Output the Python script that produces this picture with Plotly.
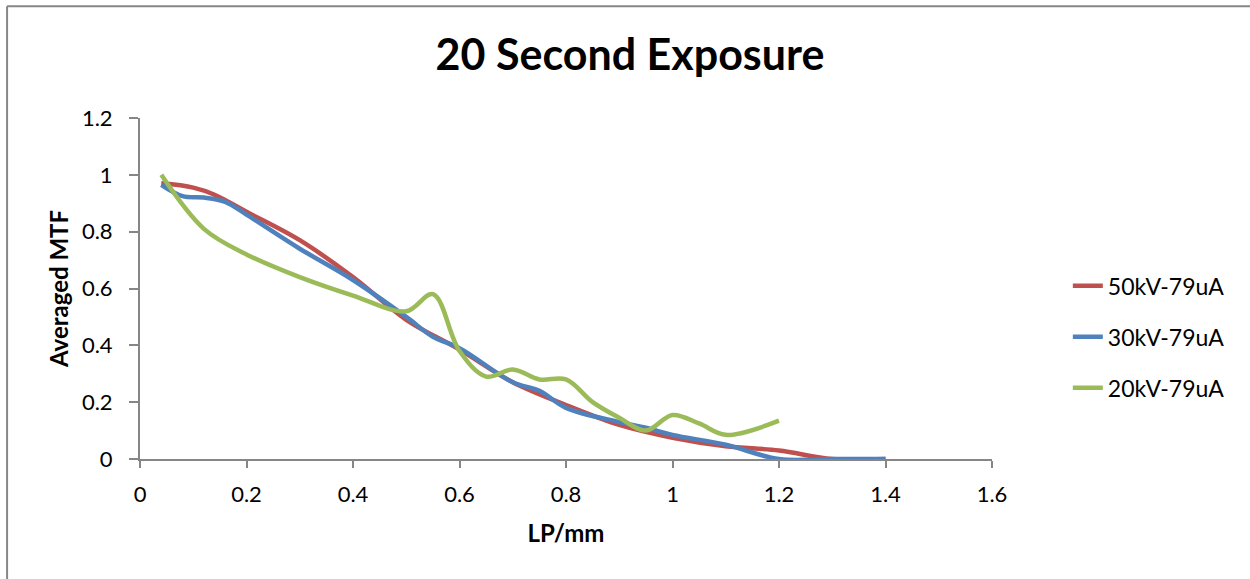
import plotly.graph_objects as go

x_50 = [0.04, 0.1, 0.14, 0.2, 0.3, 0.4, 0.5, 0.6, 0.7, 0.8, 0.9, 1.0, 1.1, 1.2, 1.3, 1.4]
y_50 = [0.97, 0.955, 0.93, 0.87, 0.77, 0.64, 0.49, 0.385, 0.27, 0.19, 0.12, 0.075, 0.045, 0.03, 0.0, 0.0]

x_30 = [0.04, 0.08, 0.12, 0.16, 0.2, 0.3, 0.4, 0.5, 0.55, 0.6, 0.7, 0.75, 0.8, 0.9, 0.95, 1.0, 1.1, 1.2, 1.3, 1.4]
y_30 = [0.965, 0.925, 0.92, 0.905, 0.86, 0.74, 0.63, 0.5, 0.43, 0.39, 0.27, 0.24, 0.18, 0.13, 0.11, 0.085, 0.05, 0.0, 0.0, 0.0]

x_20 = [0.04, 0.12, 0.2, 0.3, 0.4, 0.5, 0.55, 0.6, 0.65, 0.7, 0.75, 0.8, 0.85, 0.9, 0.95, 1.0, 1.05, 1.1, 1.2]
y_20 = [1.0, 0.81, 0.72, 0.64, 0.575, 0.52, 0.58, 0.38, 0.29, 0.315, 0.28, 0.28, 0.2, 0.145, 0.1, 0.155, 0.125, 0.085, 0.135]

names = ["50kV-79uA", "30kV-79uA", "20kV-79uA"]
colors = ["#C0504D", "#4F81BD", "#9BBB59"]
x_ticks = [0, 0.2, 0.4, 0.6, 0.8, 1, 1.2, 1.4, 1.6]
x_tick_text = ["0", "0.2", "0.4", "0.6", "0.8", "1", "1.2", "1.4", "1.6"]
y_ticks = [0, 0.2, 0.4, 0.6, 0.8, 1, 1.2]
y_tick_text = ["0", "0.2", "0.4", "0.6", "0.8", "1", "1.2"]

FONT = "Lato"

fig = go.Figure()
for xs, ys, nm, col in zip([x_50, x_30, x_20], [y_50, y_30, y_20], names, colors):
    fig.add_trace(go.Scatter(x=xs, y=ys, mode="lines", name=nm, legendgroup=nm,
                             line=dict(color=col, width=4.5, shape="spline", smoothing=1)))

axis_col = "#868686"
fig.update_layout(
    width=1250, height=579,
    margin=dict(l=140, r=258, t=118, b=120),
    paper_bgcolor="white", plot_bgcolor="white",
    font=dict(family=FONT, size=22, color="black"),
    title=dict(text="<b>20 Second Exposure</b>", x=0.504, xanchor="center", y=0.905, yanchor="middle",
               font=dict(family=FONT, size=43, color="black")),
    xaxis=dict(range=[0, 1.6], tickvals=x_ticks, ticktext=x_tick_text, showgrid=False, zeroline=False,
               showline=True, linecolor=axis_col, linewidth=2, ticks="outside", ticklen=7,
               tickcolor=axis_col, tickwidth=2, ticklabelstandoff=8,
               tickfont=dict(size=22),
               title=dict(text="<b>LP/mm</b>", font=dict(size=24), standoff=19)),
    yaxis=dict(range=[0, 1.2], tickvals=y_ticks, ticktext=y_tick_text, showgrid=False, zeroline=False,
               showline=True, linecolor=axis_col, linewidth=2, ticks="outside", ticklen=9,
               tickcolor=axis_col, tickwidth=2, ticklabelstandoff=12,
               tickfont=dict(size=22),
               title=dict(text="<b>Averaged MTF</b>", font=dict(size=24), standoff=6)),
    legend=dict(x=1.089, xanchor="left", y=0.358, yanchor="middle", font=dict(size=23),
                tracegroupgap=18, bgcolor="rgba(0,0,0,0)"),
    showlegend=True,
)

fig.add_shape(type="line", xref="paper", yref="paper", x0=-0.156, x1=-0.156, y0=-0.5, y1=1.328,
              line=dict(color=axis_col, width=2))
fig.add_shape(type="line", xref="paper", yref="paper", x0=-0.156, x1=1.35, y0=1.328, y1=1.328,
              line=dict(color=axis_col, width=2))

fig.write_html("out.html")
